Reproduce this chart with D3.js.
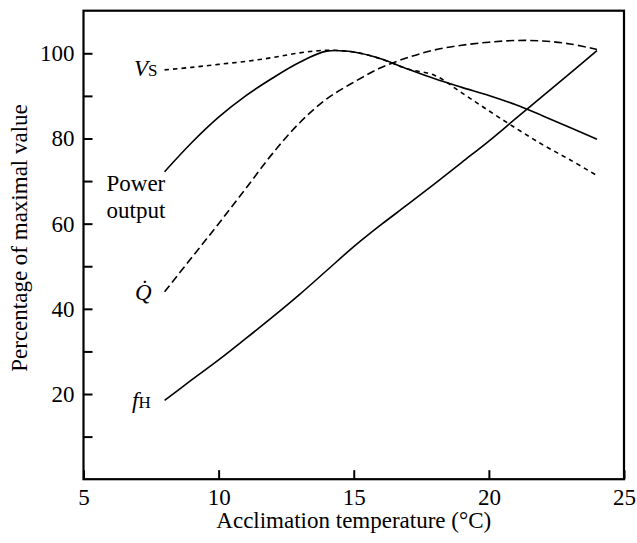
<!doctype html>
<html lang="en">
<head>
<meta charset="utf-8">
<title>Acclimation temperature</title>
<script src="https://d3js.org/d3.v7.min.js"></script>
<style>
  body { margin: 0; background: #fff; }
  svg text { font-family: "Liberation Serif", "Times New Roman", serif; fill: #000; }
</style>
</head>
<body>
<svg width="637" height="543"></svg>
<script>
// acclimation temperature (°C)
var temps = [8, 9, 10, 11, 12, 13, 14, 15, 16, 17, 18, 19, 20, 21, 22, 23, 24];
// percentage of maximal value
var powerOutput = [72.2, 79.0, 85.0, 90.0, 94.2, 97.9, 100.5, 100.3, 98.7, 96.3, 94.0, 92.0, 90.1, 87.9, 85.3, 82.6, 79.8];
var vs = [96.1, 96.7, 97.4, 98.1, 99.0, 100.1, 100.7, 100.3, 98.7, 96.3, 94.8, 90.7, 86.5, 82.4, 78.5, 75.0, 71.3];
var qdot = [44.0, 52.0, 60.0, 68.2, 76.5, 83.7, 89.3, 93.2, 96.6, 99.0, 100.8, 101.9, 102.6, 103.0, 102.9, 102.2, 100.9];
var fh = [18.5, 23.3, 28.0, 33.0, 38.1, 43.4, 49.0, 54.6, 59.7, 64.5, 69.4, 74.4, 79.4, 84.7, 90.0, 95.3, 100.6];

var xTicks = [5, 10, 15, 20, 25];
var yTicks = [10, 20, 30, 40, 50, 60, 70, 80, 90, 100];

var margin = {left: 83.5, top: 10.7, right: 13, bottom: 63.8};
var width = 637 - margin.left - margin.right;
var height = 543 - margin.top - margin.bottom;

var svg = d3.select("svg");
var g = svg.append("g").attr("transform", "translate(" + margin.left + "," + margin.top + ")");

var x = d3.scaleLinear().domain([5, 25]).range([0, width]);
var y = d3.scaleLinear().domain([0, 110]).range([height, 0]);

// axes, ticks pointing inward
var yAxis = g.append("g")
  .call(d3.axisLeft(y).tickValues(yTicks).tickSize(-9).tickPadding(9)
    .tickFormat(function(d) { return d % 20 === 0 ? d : ""; }));
var xAxis = g.append("g").attr("transform", "translate(0," + height + ")")
  .call(d3.axisBottom(x).tickValues(xTicks).tickSize(-9).tickPadding(9));

[xAxis, yAxis].forEach(function(a) {
  a.select(".domain").remove();
  a.selectAll("line").attr("stroke", "#000").attr("stroke-width", 2);
  a.selectAll("text").style("font-size", "23px").attr("fill", "#000");
});

// frame
g.append("rect")
  .attr("width", width).attr("height", height)
  .attr("fill", "none").attr("stroke", "#000").attr("stroke-width", 2.2);

var line = d3.line()
  .x(function(d) { return x(d[0]); })
  .y(function(d) { return y(d[1]); })
  .curve(d3.curveCatmullRom.alpha(0.5));

function series(vals) { return temps.map(function(t, i) { return [t, vals[i]]; }); }

var curves = [
  {vals: qdot, dash: "8,4"},
  {vals: vs, dash: "4.5,4"},
  {vals: powerOutput, dash: null},
  {vals: fh, dash: null}
];
curves.forEach(function(c) {
  g.append("path")
    .datum(series(c.vals))
    .attr("d", line)
    .attr("fill", "none")
    .attr("stroke", "#000")
    .attr("stroke-width", 1.6)
    .attr("stroke-dasharray", c.dash);
});

// curve labels
var lab = svg.append("g").style("font-size", "23px");
var t1 = lab.append("text").attr("x", 134).attr("y", 76);
t1.append("tspan").style("font-style", "italic").text("V");
t1.append("tspan").style("font-size", "17px").text("S");

lab.append("text").attr("x", 106.5).attr("y", 191).text("Power");
lab.append("text").attr("x", 106.5).attr("y", 218).text("output");

lab.append("text").attr("x", 135).attr("y", 300).style("font-style", "italic").text("Q\u0307");

var t2 = lab.append("text").attr("x", 132).attr("y", 408);
t2.append("tspan").style("font-style", "italic").text("f");
t2.append("tspan").style("font-size", "17px").text("H");

// axis titles
svg.append("text")
  .attr("x", margin.left + width / 2).attr("y", 528)
  .attr("text-anchor", "middle").style("font-size", "23px")
  .text("Acclimation temperature (\u00B0C)");
svg.append("text")
  .attr("transform", "translate(26.5,238) rotate(-90)")
  .attr("text-anchor", "middle").style("font-size", "23px")
  .text("Percentage of maximal value");
</script>
</body>
</html>
